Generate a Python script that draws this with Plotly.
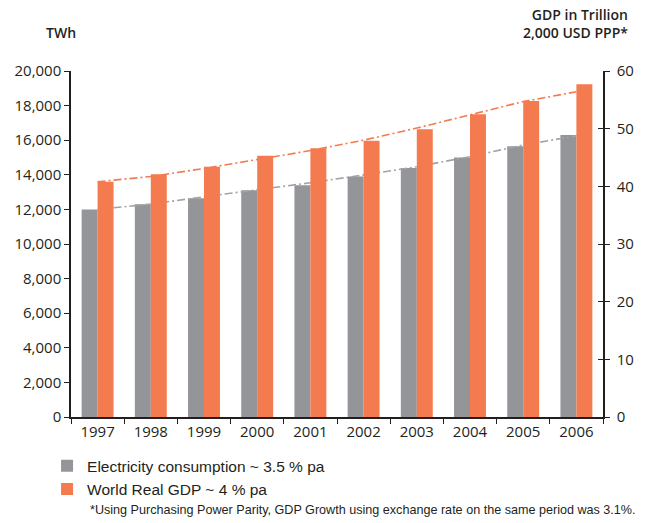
import plotly.graph_objects as go

# Years on the category axis
years = ["1997", "1998", "1999", "2000", "2001", "2002", "2003", "2004", "2005", "2006"]

# Electricity consumption (TWh, left axis)
electricity_twh = [12000, 12300, 12650, 13100, 13400, 13900, 14400, 15000, 15650, 16300]
# World real GDP (trillion 2,000 USD PPP, right axis)
gdp_trillion = [40.8, 42.1, 43.4, 45.3, 46.6, 47.9, 49.9, 52.5, 54.8, 57.7]

# Growth trend lines drawn over the bars
electricity_trend = [12000, 12310, 12730, 13120, 13540, 13990, 14470, 15050, 15720, 16250]
gdp_trend = [40.8, 41.7, 43.1, 44.6, 46.2, 48.0, 50.1, 52.4, 54.7, 56.4]

# Left and right axis ticks
left_ticks = list(range(0, 20001, 2000))
right_ticks = list(range(0, 61, 10))

GREY = "#939598"
ORANGE = "#F47A50"
INK = "#231F20"
FONT = "Open Sans"
NARROW = "Liberation Sans, Arial, sans-serif"

fig = go.Figure()

fig.add_trace(go.Bar(
    x=years, y=electricity_twh, name="Electricity consumption ~ 3.5 % pa",
    marker=dict(color=GREY, line=dict(width=0)),
    width=0.3, offset=-0.3, yaxis="y",
))
fig.add_trace(go.Bar(
    x=years, y=gdp_trillion, name="World Real GDP ~ 4 % pa",
    marker=dict(color=ORANGE, line=dict(width=0)),
    width=0.3, offset=0.0, yaxis="y2",
))
fig.add_trace(go.Scatter(
    x=years, y=electricity_trend, mode="lines", yaxis="y", showlegend=False,
    line=dict(color="#A2A3A6", width=1.6, dash="8px,3px,2px,3px"),
    hoverinfo="skip",
))
fig.add_trace(go.Scatter(
    x=years, y=gdp_trend, mode="lines", yaxis="y2", showlegend=False,
    line=dict(color=ORANGE, width=1.6, dash="8px,3px,2px,3px"),
    hoverinfo="skip",
))
# Empty trace so the inner tick marks of the right axis are drawn
fig.add_trace(go.Scatter(x=[], y=[], yaxis="y3", showlegend=False))

axis_common = dict(
    showgrid=False, zeroline=False, showline=True,
    linecolor=INK, linewidth=1.5, tickcolor=INK, tickwidth=1.3, ticklen=5,
    tickfont=dict(family=FONT, size=15, color=INK),
)

fig.update_layout(
    width=645, height=523,
    margin=dict(l=71, r=42, t=71, b=106),
    paper_bgcolor="white", plot_bgcolor="white",
    showlegend=True,
    barmode="overlay",
    xaxis=dict(
        type="category", categoryorder="array", categoryarray=years,
        tickson="boundaries", ticks="outside", range=[-0.5, 9.5],
        tickangle=0, **axis_common,
    ),
    yaxis=dict(
        range=[0, 20000], tickvals=left_ticks, tickformat=",", ticks="outside",
        **axis_common,
    ),
    yaxis2=dict(
        range=[0, 60], tickvals=right_ticks, overlaying="y", side="right",
        anchor="x", ticks="outside", ticklabelstandoff=4, **axis_common,
    ),
    yaxis3=dict(
        range=[0, 60], tickvals=right_ticks, overlaying="y", side="right",
        anchor="x", ticks="inside", showticklabels=False, showline=False,
        showgrid=False, zeroline=False, tickcolor=INK, tickwidth=1.3, ticklen=5,
    ),
    legend=dict(
        x=-0.045, y=-0.093, xanchor="left", yanchor="top",
        orientation="v", traceorder="normal", tracegroupgap=0,
        font=dict(family=NARROW, size=15.5, color=INK),
        bgcolor="rgba(0,0,0,0)", borderwidth=0,
    ),
    annotations=[
        dict(text="TWh", x=-0.019, y=1.11, xref="paper", yref="paper",
             xanchor="center", yanchor="middle", showarrow=False,
             font=dict(family=FONT, size=14, color=INK, weight=600)),
        dict(text="GDP in Trillion<br>2,000 USD PPP*", x=1.051, y=1.137,
             xref="paper", yref="paper", xanchor="right", yanchor="middle",
             align="right", showarrow=False,
             font=dict(family=FONT, size=14, color=INK, weight=600)),
        dict(text="*Using Purchasing Power Parity, GDP Growth using exchange rate on the same period was 3.1%.",
             x=0.032, y=-0.269, xref="paper", yref="paper",
             xanchor="left", yanchor="middle", showarrow=False,
             font=dict(family=NARROW, size=12.6, color=INK)),
    ],
)

fig.write_html("out.html")
